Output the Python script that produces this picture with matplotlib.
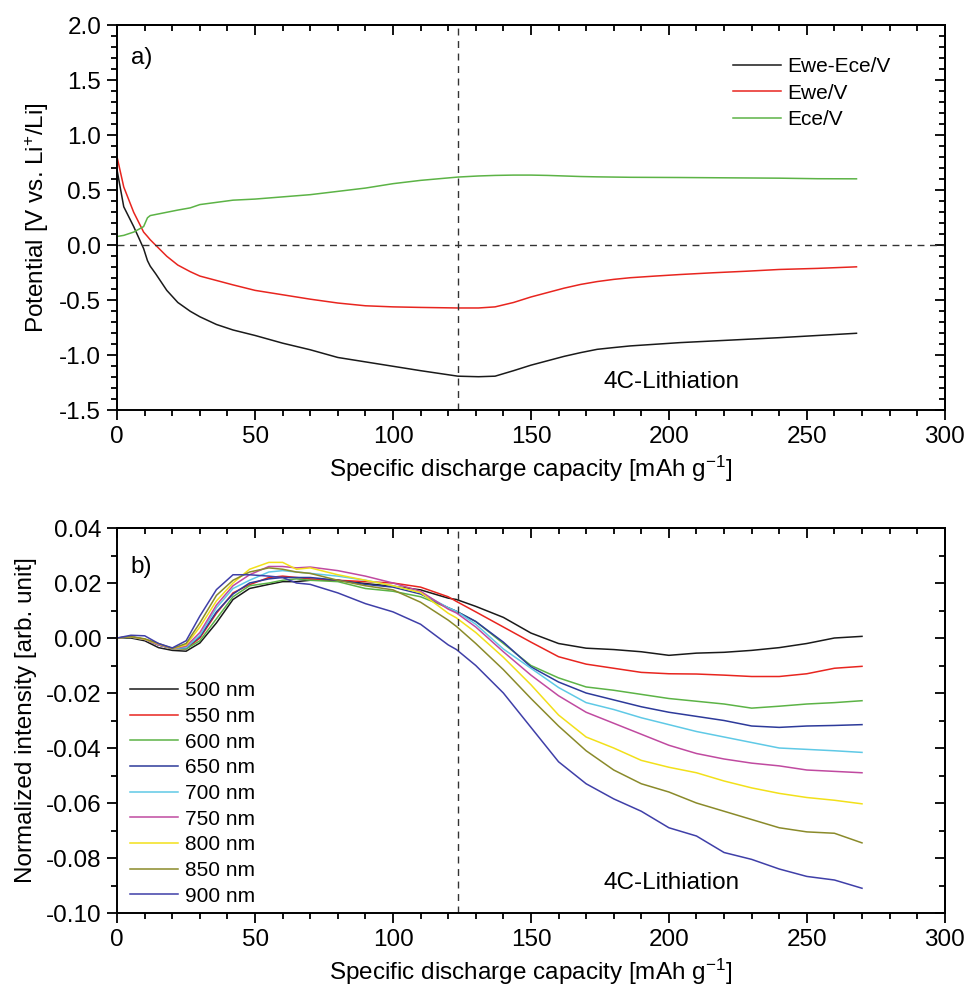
import matplotlib
matplotlib.use("Agg")
import matplotlib.pyplot as plt
from matplotlib.ticker import MultipleLocator, FuncFormatter

plt.rcParams["font.family"] = ["Liberation Sans", "DejaVu Sans"]
plt.rcParams["mathtext.default"] = "regular"
plt.rcParams["axes.unicode_minus"] = False

# panel a) potentials
cap_a = [0, 2.4, 6, 9.6, 11, 12, 14, 18, 22, 26.5, 30, 36, 42, 50, 60, 70, 80, 90,
         100, 110, 123.5, 131, 137, 143.7, 150, 156, 162, 168, 174, 180, 186, 195,
         204, 216, 228, 240, 254, 268]
ewe_ece = [0.68, 0.35, 0.17, -0.03, -0.14, -0.19, -0.26, -0.41, -0.52, -0.60, -0.65,
           -0.72, -0.77, -0.82, -0.89, -0.95, -1.02, -1.06, -1.10, -1.14, -1.19, -1.195,
           -1.19, -1.14, -1.09, -1.05, -1.01, -0.976, -0.946, -0.93, -0.915, -0.90,
           -0.885, -0.87, -0.855, -0.84, -0.82, -0.80]
ewe = [0.80, 0.53, 0.30, 0.12, 0.08, 0.05, 0.0, -0.10, -0.18, -0.24, -0.28, -0.32,
       -0.36, -0.41, -0.45, -0.49, -0.525, -0.55, -0.56, -0.565, -0.57, -0.57, -0.56,
       -0.52, -0.47, -0.43, -0.39, -0.356, -0.33, -0.31, -0.295, -0.28, -0.266, -0.25,
       -0.236, -0.22, -0.21, -0.196]
ece = [0.08, 0.09, 0.12, 0.17, 0.25, 0.27, 0.28, 0.30, 0.32, 0.34, 0.37, 0.39, 0.41,
       0.42, 0.44, 0.46, 0.49, 0.52, 0.56, 0.59, 0.62, 0.63, 0.635, 0.638, 0.638,
       0.635, 0.63, 0.625, 0.622, 0.62, 0.618, 0.617, 0.616, 0.614, 0.612, 0.61,
       0.605, 0.604]
labels_a = ["Ewe-Ece/V", "Ewe/V", "Ece/V"]
colors_a = ["#1a1a1a", "#e8251f", "#5cb346"]

# panel b) normalized intensity per wavelength
cap_b = [0, 5, 10, 15, 20, 25, 30, 36, 42, 48, 55, 60, 65, 70, 80, 90, 100, 110, 120,
         123, 130, 140, 150, 160, 170, 180, 190, 200, 210, 220, 230, 240, 250, 260, 270]
nm500 = [0, 0.0, -0.001, -0.0035, -0.0045, -0.0048, -0.0018, 0.0055, 0.014, 0.018,
         0.0195, 0.0205, 0.0205, 0.021, 0.021, 0.0198, 0.0188, 0.0175, 0.0145, 0.014,
         0.0115, 0.0075, 0.0018, -0.002, -0.0037, -0.0042, -0.005, -0.0063, -0.0055,
         -0.0052, -0.0045, -0.0035, -0.002, 0.0, 0.0006]
nm550 = [0, 0.0004, -0.0005, -0.0025, -0.0038, -0.004, 0.0, 0.009, 0.0164, 0.0194,
         0.022, 0.0225, 0.022, 0.0215, 0.021, 0.0205, 0.020, 0.0185, 0.015, 0.0133,
         0.0095, 0.004, -0.0015, -0.0068, -0.0095, -0.011, -0.0125, -0.013, -0.0131,
         -0.0135, -0.014, -0.014, -0.013, -0.011, -0.0103]
nm600 = [0, 0.0003, -0.0005, -0.0025, -0.0038, -0.004, -0.001, 0.007, 0.015, 0.019,
         0.020, 0.021, 0.0215, 0.021, 0.0205, 0.018, 0.017, 0.015, 0.011, 0.0097,
         0.006, -0.002, -0.010, -0.0145, -0.0178, -0.019, -0.0205, -0.022, -0.023,
         -0.024, -0.0255, -0.0248, -0.024, -0.0235, -0.0228]
nm650 = [0, 0.0004, -0.0005, -0.0025, -0.0038, -0.0035, 0.0005, 0.0095, 0.016, 0.020,
         0.0215, 0.022, 0.022, 0.022, 0.021, 0.0195, 0.0185, 0.016, 0.011, 0.0097,
         0.006, -0.0015, -0.0105, -0.016, -0.020, -0.0225, -0.025, -0.027, -0.0285,
         -0.030, -0.032, -0.0325, -0.032, -0.0318, -0.0315]
nm700 = [0, 0.0004, -0.0005, -0.0025, -0.0038, -0.0035, 0.001, 0.011, 0.018, 0.021,
         0.024, 0.0245, 0.024, 0.0235, 0.0225, 0.021, 0.019, 0.0165, 0.011, 0.0097,
         0.005, -0.004, -0.011, -0.018, -0.0235, -0.026, -0.029, -0.0315, -0.034,
         -0.036, -0.038, -0.040, -0.0405, -0.041, -0.0416]
nm750 = [0, 0.0004, -0.0005, -0.0025, -0.0038, -0.003, 0.002, 0.012, 0.019, 0.023,
         0.026, 0.026, 0.0255, 0.0258, 0.0245, 0.0225, 0.020, 0.017, 0.0105, 0.0091,
         0.004, -0.005, -0.0135, -0.021, -0.027, -0.031, -0.035, -0.039, -0.042,
         -0.044, -0.0455, -0.0465, -0.048, -0.0485, -0.049]
nm800 = [0, 0.0005, -0.0004, -0.0022, -0.0038, -0.0025, 0.004, 0.0135, 0.020, 0.025,
         0.0275, 0.0275, 0.025, 0.0255, 0.023, 0.021, 0.019, 0.0165, 0.009, 0.0073,
         0.002, -0.007, -0.017, -0.028, -0.036, -0.040, -0.0445, -0.047, -0.049,
         -0.052, -0.0545, -0.0565, -0.058, -0.059, -0.0603]
nm850 = [0, 0.0005, -0.0003, -0.002, -0.0038, -0.002, 0.0055, 0.0155, 0.021, 0.024,
         0.0255, 0.025, 0.024, 0.0235, 0.021, 0.019, 0.0175, 0.013, 0.0065, 0.0042,
         -0.002, -0.0115, -0.022, -0.032, -0.041, -0.048, -0.053, -0.056, -0.060,
         -0.063, -0.066, -0.069, -0.0705, -0.071, -0.0745]
nm900 = [0, 0.001, 0.0008, -0.002, -0.0036, -0.001, 0.008, 0.0176, 0.023, 0.023,
         0.0225, 0.022, 0.020, 0.0195, 0.0164, 0.0125, 0.0095, 0.005, -0.0025, -0.0042,
         -0.010, -0.020, -0.0325, -0.045, -0.053, -0.0585, -0.063, -0.069, -0.072,
         -0.078, -0.0805, -0.084, -0.0867, -0.088, -0.091]
series_b = [nm500, nm550, nm600, nm650, nm700, nm750, nm800, nm850, nm900]
labels_b = ["500 nm", "550 nm", "600 nm", "650 nm", "700 nm", "750 nm", "800 nm",
            "850 nm", "900 nm"]
colors_b = ["#1a1a1a", "#e8251f", "#5cb346", "#2d3a9a", "#5fc9e6", "#c04aa0",
            "#f2e01a", "#8a8a2a", "#3f3fa8"]

MARK_CAP = 123.5
FS = 17.5
LEG_FS = 15


def fmt(decimals):
    def f(v, pos):
        if abs(v) < 1e-9:
            v = 0.0
        return f"{v:.{decimals}f}"
    return FuncFormatter(f)


def style_axes(ax, ymajor, yminor):
    ax.set_xlim(0, 300)
    ax.xaxis.set_major_locator(MultipleLocator(50))
    ax.xaxis.set_minor_locator(MultipleLocator(10))
    ax.yaxis.set_major_locator(MultipleLocator(ymajor))
    ax.yaxis.set_minor_locator(MultipleLocator(yminor))
    ax.tick_params(which="both", direction="out", width=1.3, labelsize=FS,
                   top=False, right=False, pad=4)
    ax.tick_params(which="major", length=7.5)
    ax.tick_params(which="minor", length=4.5)
    for sp in ax.spines.values():
        sp.set_linewidth(1.4)
    top = ax.secondary_xaxis("top")
    top.xaxis.set_major_locator(MultipleLocator(50))
    top.xaxis.set_minor_locator(MultipleLocator(10))
    right = ax.secondary_yaxis("right")
    right.yaxis.set_major_locator(MultipleLocator(ymajor))
    right.yaxis.set_minor_locator(MultipleLocator(yminor))
    for sec in (top, right):
        sec.tick_params(which="both", direction="in", width=1.3,
                        labeltop=False, labelright=False)
        sec.tick_params(which="major", length=7.5)
        sec.tick_params(which="minor", length=4.5)
        for sp in sec.spines.values():
            sp.set_linewidth(1.4)
    ax.set_xlabel("Specific discharge capacity [mAh g$^{-1}$]", fontsize=FS,
                  labelpad=4)


fig = plt.figure(figsize=(9.68, 9.91), dpi=100)
ax1 = fig.add_axes([0.121, 0.586, 0.855, 0.3885])
ax2 = fig.add_axes([0.121, 0.0787, 0.855, 0.3885])

# top panel
for vals, lab, col in zip([ewe_ece, ewe, ece], labels_a, colors_a):
    ax1.plot(cap_a, vals, color=col, lw=1.1, label=lab)
ax1.axhline(0, color="#333333", lw=1.0, ls=(0, (5, 4)))
ax1.axvline(MARK_CAP, color="#333333", lw=1.0, ls=(0, (5, 4)))
ax1.set_ylim(-1.5, 2.0)
style_axes(ax1, 0.5, 0.1)
ax1.yaxis.set_major_formatter(fmt(1))
ax1.set_ylabel("Potential [V vs. Li$^{+}$/Li]", fontsize=FS, labelpad=6)
ax1.text(5, 1.70, "a)", fontsize=FS, va="center")
ax1.text(201, -1.245, "4C-Lithiation", fontsize=FS, ha="center", va="center")
ax1.legend(loc="upper left", bbox_to_anchor=(0.744, 0.917), frameon=False,
           fontsize=LEG_FS, handlelength=2.3, handletextpad=0.3,
           labelspacing=0.36, borderpad=0, borderaxespad=0)

# bottom panel
for vals, lab, col in zip(series_b, labels_b, colors_b):
    ax2.plot(cap_b, vals, color=col, lw=1.1, label=lab)
ax2.axvline(MARK_CAP, color="#333333", lw=1.0, ls=(0, (5, 4)))
ax2.set_ylim(-0.10, 0.04)
style_axes(ax2, 0.02, 0.01)
ax2.yaxis.set_major_formatter(fmt(2))
ax2.set_ylabel("Normalized intensity [arb. unit]", fontsize=FS, labelpad=6)
ax2.text(5, 0.026, "b)", fontsize=FS, va="center")
ax2.text(201, -0.089, "4C-Lithiation", fontsize=FS, ha="center", va="center")
ax2.legend(loc="upper left", bbox_to_anchor=(0.016, 0.602), frameon=False,
           fontsize=LEG_FS, handlelength=2.3, handletextpad=0.3,
           labelspacing=0.32, borderpad=0, borderaxespad=0)

fig.savefig("out.png", dpi=100)
